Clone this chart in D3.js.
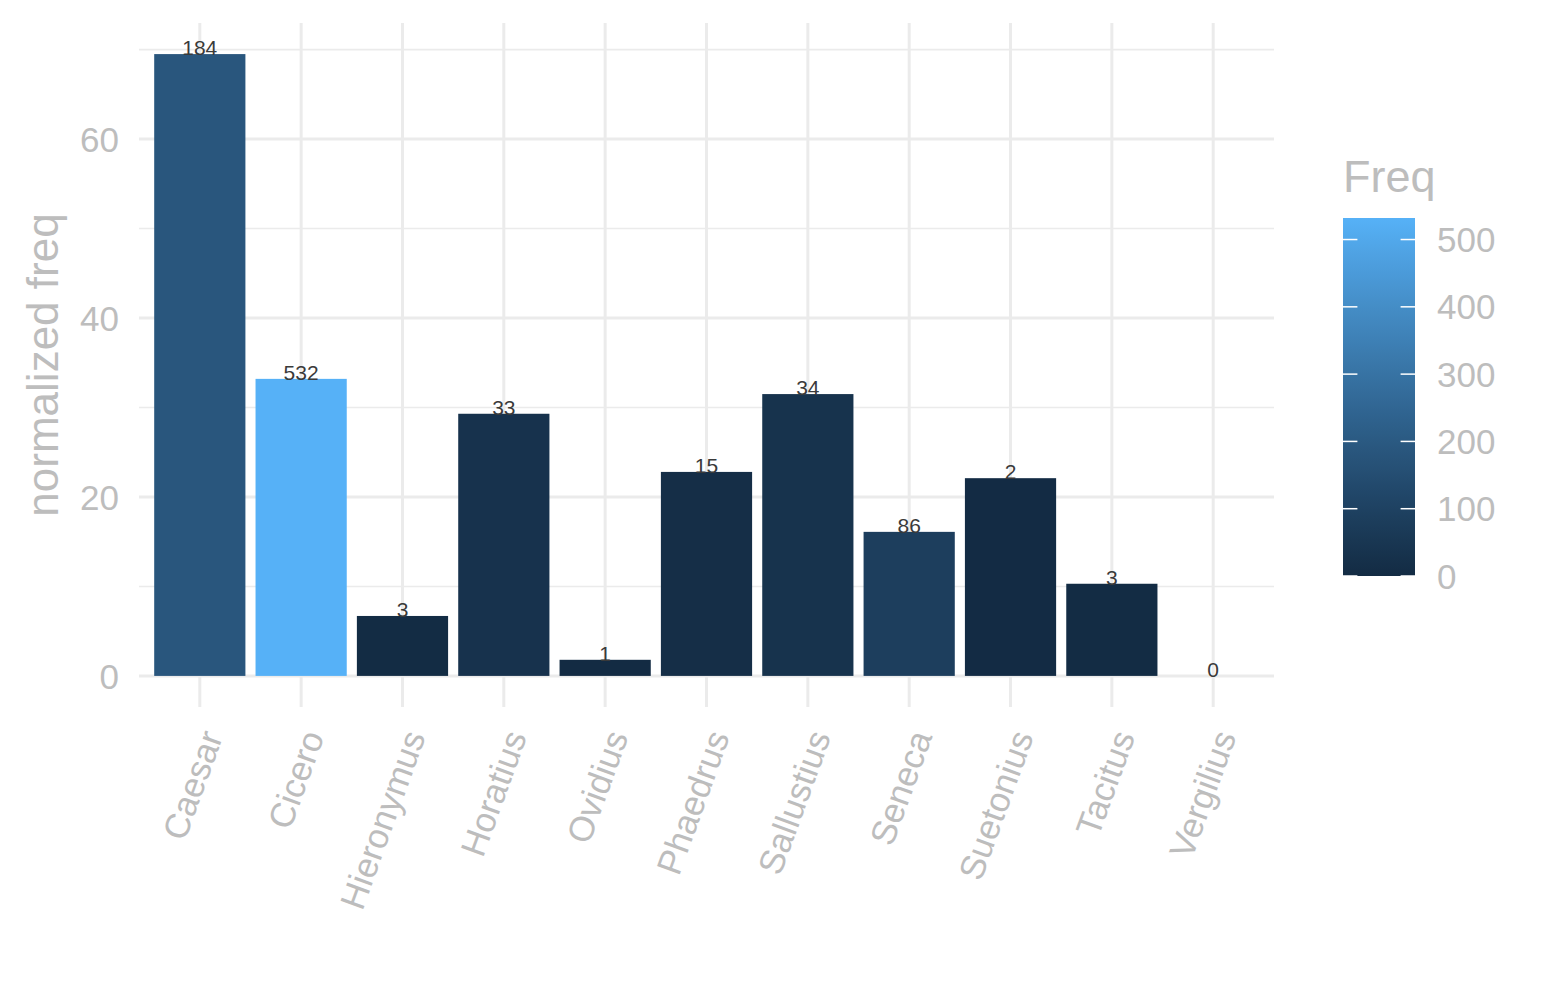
<!DOCTYPE html>
<html>
<head>
<meta charset="utf-8">
<script src="https://cdn.jsdelivr.net/npm/d3@7"></script>
<style>
  body { margin: 0; background: #fff; }
  text { font-family: "Liberation Sans", Arial, sans-serif; }
</style>
</head>
<body>
<div id="chart"></div>
<script>
const authors = ["Caesar", "Cicero", "Hieronymus", "Horatius", "Ovidius", "Phaedrus",
  "Sallustius", "Seneca", "Suetonius", "Tacitus", "Vergilius"];
const normFreq = [69.5, 33.2, 6.7, 29.3, 1.8, 22.8, 31.5, 16.1, 22.1, 10.3, 0];
const freq = [184, 532, 3, 33, 1, 15, 34, 86, 2, 3, 0];
const yTicks = [0, 20, 40, 60];
const yMinor = [10, 30, 50, 70];
const legendTicks = [0, 100, 200, 300, 400, 500];

const W = 1545, H = 1000;
const panel = { left: 139, right: 1274, top: 23, bottom: 707 };
const gridCol = "#EBEBEB";
const textCol = "#BDBDBD";

const svg = d3.select("#chart").append("svg")
  .attr("width", W).attr("height", H);

// scales, ggplot-like expansion
const maxY = d3.max(normFreq);
const pad = maxY * 0.05;
const y = d3.scaleLinear().domain([-pad, maxY + pad]).range([panel.bottom, panel.top]);
const step = (panel.right - panel.left) / (authors.length + 0.2);
const x = d3.scaleBand().domain(authors)
  .range([panel.left + 0.6 * step - step / 2, panel.right - 0.6 * step + step / 2])
  .paddingInner(0.1).paddingOuter(0.05);
const colorMax = d3.max(freq);
const color = d3.scaleLinear().domain([0, colorMax])
  .range(["#132B43", "#56B1F7"]).interpolate(d3.interpolateLab);

const cx = d => x(d) + x.bandwidth() / 2;

// grid
const grid = svg.append("g");
grid.selectAll(".minor").data(yMinor).join("line")
  .attr("x1", panel.left).attr("x2", panel.right)
  .attr("y1", d => y(d)).attr("y2", d => y(d))
  .attr("stroke", gridCol).attr("stroke-width", 1.6);
grid.selectAll(".major").data(yTicks).join("line")
  .attr("x1", panel.left).attr("x2", panel.right)
  .attr("y1", d => y(d)).attr("y2", d => y(d))
  .attr("stroke", gridCol).attr("stroke-width", 3);
grid.selectAll(".vmajor").data(authors).join("line")
  .attr("x1", cx).attr("x2", cx)
  .attr("y1", panel.top).attr("y2", panel.bottom)
  .attr("stroke", gridCol).attr("stroke-width", 3);

// bars
svg.append("g").selectAll("rect").data(authors).join("rect")
  .attr("x", d => x(d))
  .attr("width", x.bandwidth())
  .attr("y", (d, i) => y(normFreq[i]))
  .attr("height", (d, i) => y(0) - y(normFreq[i]))
  .attr("fill", (d, i) => color(freq[i]));

// bar labels
svg.append("g").selectAll("text").data(authors).join("text")
  .attr("x", cx)
  .attr("y", (d, i) => y(normFreq[i]) + 1)
  .attr("text-anchor", "middle")
  .attr("font-size", 21)
  .attr("fill", "#3a3a3a")
  .text((d, i) => freq[i]);

// y axis labels
svg.append("g").selectAll("text").data(yTicks).join("text")
  .attr("x", 119)
  .attr("y", d => y(d))
  .attr("dy", "0.36em")
  .attr("text-anchor", "end")
  .attr("font-size", 35)
  .attr("fill", textCol)
  .text(d => d);

svg.append("text")
  .attr("transform", `translate(58,${(panel.top + panel.bottom) / 2}) rotate(-90)`)
  .attr("text-anchor", "middle")
  .attr("font-size", 44)
  .attr("fill", textCol)
  .text("normalized freq");

// x axis labels
svg.append("g").selectAll("text").data(authors).join("text")
  .attr("transform", d => `translate(${cx(d) + 12},${732}) rotate(-70)`)
  .attr("text-anchor", "end")
  .attr("dy", "0.35em")
  .attr("font-size", 35)
  .attr("fill", textCol)
  .text(d => d);

// legend
const lg = { x: 1343, w: 72, top: 218, bottom: 576 };
const ly = d3.scaleLinear().domain([0, colorMax]).range([lg.bottom, lg.top]);
const defs = svg.append("defs");
const grad = defs.append("linearGradient").attr("id", "freqGrad")
  .attr("x1", 0).attr("y1", 1).attr("x2", 0).attr("y2", 0);
d3.range(0, 1.0001, 0.05).forEach(t => {
  grad.append("stop").attr("offset", t).attr("stop-color", color(t * colorMax));
});
svg.append("text")
  .attr("x", lg.x).attr("y", 192)
  .attr("font-size", 45)
  .attr("fill", textCol)
  .text("Freq");
svg.append("rect")
  .attr("x", lg.x).attr("y", lg.top)
  .attr("width", lg.w).attr("height", lg.bottom - lg.top)
  .attr("fill", "url(#freqGrad)");
const lt = svg.append("g");
lt.selectAll(".tl").data(legendTicks).join("line")
  .attr("x1", lg.x).attr("x2", lg.x + lg.w / 5)
  .attr("y1", d => ly(d)).attr("y2", d => ly(d))
  .attr("stroke", "#fff").attr("stroke-width", 1.5);
lt.selectAll(".tr").data(legendTicks).join("line")
  .attr("x1", lg.x + lg.w * 4 / 5).attr("x2", lg.x + lg.w)
  .attr("y1", d => ly(d)).attr("y2", d => ly(d))
  .attr("stroke", "#fff").attr("stroke-width", 1.5);
lt.selectAll("text").data(legendTicks).join("text")
  .attr("x", 1437)
  .attr("y", d => ly(d))
  .attr("dy", "0.36em")
  .attr("font-size", 35)
  .attr("fill", textCol)
  .text(d => d);
</script>
</body>
</html>
